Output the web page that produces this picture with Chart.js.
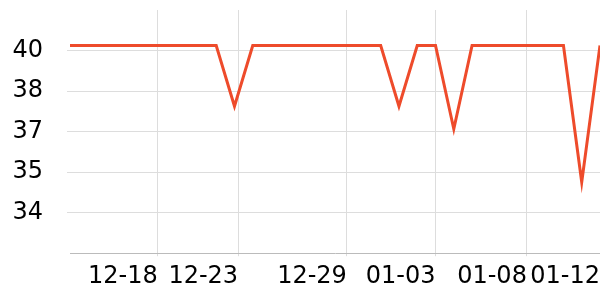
<!DOCTYPE html>
<html lang="en">
<head>
  <meta charset="UTF-8">
  <title>Line</title>
  <script src="https://cdn.jsdelivr.net/npm/chart.js"></script>
  <style>
    html, body { margin: 0; padding: 0; background: #fff; }
    #wrap { width: 600px; height: 300px; }
  </style>
</head>
<body>
  <div id="wrap"><canvas id="myLineChart"></canvas></div>

  <script>
    // days from 12-14 to 01-12
    const days = ['12-14','12-15','12-16','12-17','12-18','12-19','12-20','12-21','12-22','12-23',
                  '12-24','12-25','12-26','12-27','12-28','12-29','12-30','12-31','01-01','01-02',
                  '01-03','01-04','01-05','01-06','01-07','01-08','01-09','01-10','01-11','01-12'];
    const values = [40.2, 40.2, 40.2, 40.2, 40.2, 40.2, 40.2, 40.2, 40.2, 37.8,
                    40.2, 40.2, 40.2, 40.2, 40.2, 40.2, 40.2, 40.2, 37.8, 40.2,
                    40.2, 36.9, 40.2, 40.2, 40.2, 40.2, 40.2, 40.2, 34.8, 40.2];

    // x ticks (day offset) and labels
    const xTickPos = [4.8, 9.2, 15.15, 20, 25, 29];
    const xTickLabels = ['12-18', '12-23', '12-29', '01-03', '01-08', '01-12'];
    // y ticks
    const yTicks = [33.6, 35.2, 36.8, 38.4, 40];

    const points = values.map((v, i) => ({ x: i, y: v }));

    Chart.defaults.font.family = 'DejaVu Sans';
    Chart.defaults.font.size = 24;
    Chart.defaults.color = '#000';

    const ctx = document.getElementById('myLineChart').getContext('2d');
    new Chart(ctx, {
      type: 'line',
      data: {
        datasets: [{
          label: 'value',
          data: points,
          borderColor: '#ee4b2b',
          borderWidth: 3,
          pointRadius: 0,
          tension: 0,
          fill: false
        }]
      },
      options: {
        responsive: true,
        maintainAspectRatio: false,
        animation: false,
        layout: { padding: { top: 10, right: 0, bottom: 3, left: 0 } },
        plugins: {
          legend: { display: false },
          tooltip: { enabled: false }
        },
        scales: {
          x: {
            type: 'linear',
            min: 0,
            max: 29,
            afterBuildTicks: s => { s.ticks = xTickPos.map(v => ({ value: v })); },
            afterFit: s => { s.paddingLeft = 0; s.paddingRight = 0; },
            ticks: {
              align: 'end',
              padding: 6,
              maxRotation: 0,
              autoSkip: false,
              callback: (v, i) => xTickLabels[i]
            },
            grid: { color: '#dddddd', tickLength: 3, drawOnChartArea: true },
            border: { color: '#bbbbbb' }
          },
          y: {
            min: 32,
            max: 41.6,
            afterBuildTicks: s => { s.ticks = yTicks.map(v => ({ value: v })); },
            afterFit: s => { s.width = 70; s.paddingTop = 0; s.paddingBottom = 0; },
            ticks: {
              padding: 24,
              callback: v => Math.round(v)
            },
            grid: { color: '#dddddd', tickLength: 3 },
            border: { display: false }
          }
        }
      }
    });
  </script>
</body>
</html>
